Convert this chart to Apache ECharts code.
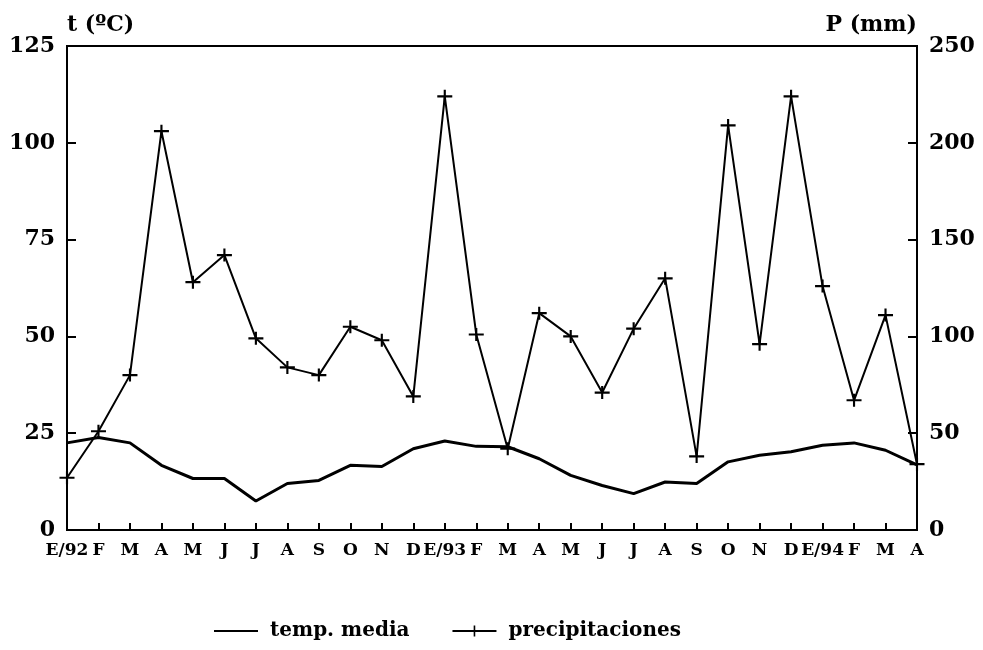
<!DOCTYPE html>
<html>
<head>
<meta charset="utf-8">
<script src="https://cdn.jsdelivr.net/npm/echarts@6/dist/echarts.min.js"></script>
<style>html,body{margin:0;padding:0;background:#fff}#c{width:983px;height:650px}</style>
</head>
<body>
<div id="c"></div>
<script>
var months = ['E/92','F','M','A','M','J','J','A','S','O','N','D','E/93','F','M','A','M','J','J','A','S','O','N','D','E/94','F','M','A'];
var tempMedia = [22.5,23.9,22.5,16.7,13.3,13.3,7.5,12.0,12.8,16.7,16.4,21.0,23.0,21.6,21.5,18.4,14.1,11.5,9.4,12.4,12.0,17.6,19.3,20.2,21.9,22.5,20.6,16.8];
var precipitaciones = [27,51,80,206,128,142,99,84,80,105,98,69,224,101,42,112,100,71,104,130,38,209,96,224,126,67,111,34];
var tTicks = [0,25,50,75,100,125];
var pTicks = [0,50,100,150,200,250];

var FONT = 'DejaVu Serif';
var plus = 'path://M0,5 H6 V0 H8 V5 H14 V7 H8 V12 H6 V7 H0 Z';
var chart = echarts.init(document.getElementById('c'));
chart.setOption({
  animation: false,
  backgroundColor: '#fff',
  textStyle: {fontFamily: FONT, color: '#000'},
  grid: {left: 67, right: 66, top: 46, bottom: 120, show: true, borderColor: '#000', borderWidth: 2, backgroundColor: 'transparent'},
  legend: {
    left: 213, top: 621, padding: 0,
    itemWidth: 44, itemHeight: 14, itemGap: 42,
    textStyle: {fontFamily: FONT, fontWeight: 'bold', fontSize: 20, color: '#000', padding: [0,0,0,7]},
    data: [{name: 'temp. media', itemStyle: {opacity: 0}}, {name: 'precipitaciones'}]
  },
  xAxis: {
    type: 'category', data: months, boundaryGap: false,
    axisLine: {lineStyle: {color: '#000', width: 2}},
    axisTick: {inside: true, length: 7, interval: 0, lineStyle: {color: '#000', width: 2}},
    axisLabel: {interval: 0, margin: 12, color: '#000', fontFamily: FONT, fontWeight: 'bold', fontSize: 17, hideOverlap: false},
    splitLine: {show: false}
  },
  yAxis: [{
    type: 'value', min: 0, max: 125, interval: 25, position: 'left',
    name: 't (ºC)', nameLocation: 'end', nameGap: 10,
    nameTextStyle: {align: 'left', color: '#000', fontFamily: FONT, fontWeight: 'bold', fontSize: 22},
    axisLine: {show: true, lineStyle: {color: '#000', width: 2}},
    axisTick: {show: true, inside: true, length: 9, lineStyle: {color: '#000', width: 2}},
    axisLabel: {margin: 12, color: '#000', fontFamily: FONT, fontWeight: 'bold', fontSize: 22,
      formatter: function(v){ return tTicks.indexOf(v) >= 0 ? String(v) : ''; }},
    splitLine: {show: false}
  },{
    type: 'value', min: 0, max: 250, interval: 50, position: 'right',
    name: 'P (mm)', nameLocation: 'end', nameGap: 10,
    nameTextStyle: {align: 'right', color: '#000', fontFamily: FONT, fontWeight: 'bold', fontSize: 22},
    axisLine: {show: true, lineStyle: {color: '#000', width: 2}},
    axisTick: {show: true, inside: true, length: 9, lineStyle: {color: '#000', width: 2}},
    axisLabel: {margin: 12, color: '#000', fontFamily: FONT, fontWeight: 'bold', fontSize: 22,
      formatter: function(v){ return pTicks.indexOf(v) >= 0 ? String(v) : ''; }},
    splitLine: {show: false}
  }],
  series: [{
    name: 'temp. media', type: 'line', yAxisIndex: 0, data: tempMedia,
    symbol: 'none', lineStyle: {color: '#000', width: 3}, itemStyle: {color: '#000'}
  },{
    name: 'precipitaciones', type: 'line', yAxisIndex: 1, data: precipitaciones,
    symbol: plus, symbolSize: [15, 13], showAllSymbol: true,
    lineStyle: {color: '#000', width: 2}, itemStyle: {color: '#000'}
  }]
});
</script>
</body>
</html>
